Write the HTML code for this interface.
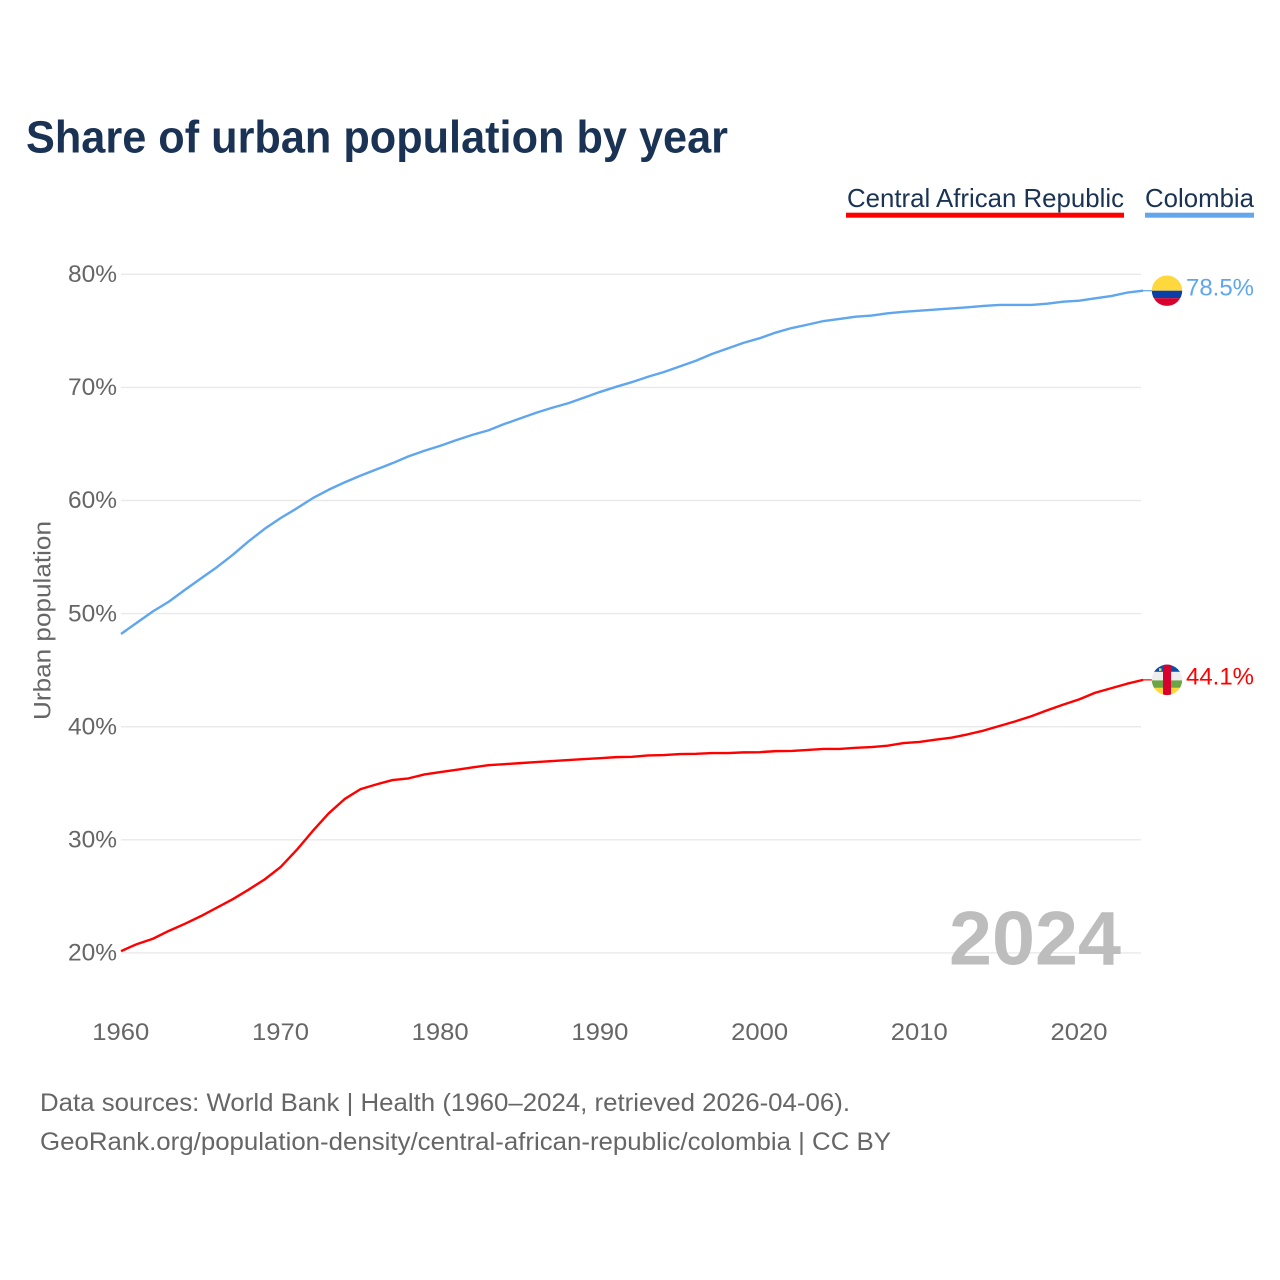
<!DOCTYPE html>
<html lang="en">
<head>
<meta charset="utf-8">
<title>Share of urban population by year</title>
<style>
  html, body { margin: 0; padding: 0; background: #fff; }
  svg { display: block; font-family: "Liberation Sans", sans-serif; }
</style>
</head>
<body>
<svg id="chart" width="1280" height="1280" viewBox="0 0 1280 1280" xmlns="http://www.w3.org/2000/svg">
  <defs>
    <clipPath id="flag-clip"><circle cx="0" cy="0" r="15.2"></circle></clipPath>
  </defs>
  <rect x="0" y="0" width="1280" height="1280" fill="#ffffff"></rect>

  <text x="26" y="152.5" font-size="45" font-weight="700" fill="#1a3354" textLength="702" lengthAdjust="spacingAndGlyphs">Share of urban population by year</text>

  <text x="847" y="207" font-size="26" fill="#1a3354" textLength="277" lengthAdjust="spacingAndGlyphs">Central African Republic</text>
  <rect x="846" y="212.7" width="278" height="5" fill="#ff0000"></rect>
  <text x="1145" y="207" font-size="26" fill="#1a3354" textLength="109" lengthAdjust="spacingAndGlyphs">Colombia</text>
  <rect x="1145" y="212.7" width="109" height="5" fill="#63a6ec"></rect>

  <g id="grid"></g>
  <g id="y-ticks"></g>
  <g id="x-ticks"></g>

  <text transform="translate(50.5,720) rotate(-90)" x="0" y="0" font-size="24" fill="#666666" textLength="199" lengthAdjust="spacingAndGlyphs">Urban population</text>

  <text x="949" y="964.5" font-size="76" font-weight="700" fill="#bdbdbd" textLength="172" lengthAdjust="spacingAndGlyphs">2024</text>

  <g id="series"></g>

  <g id="flag-colombia">
    <g clip-path="url(#flag-clip)">
      <rect x="-16" y="-16" width="32" height="16" fill="#ffd83d"></rect>
      <rect x="-16" y="0" width="32" height="7.5" fill="#0a3fa8"></rect>
      <rect x="-16" y="7.5" width="32" height="9" fill="#d8002c"></rect>
    </g>
  </g>
  <g id="flag-car">
    <g clip-path="url(#flag-clip)">
      <rect x="-16" y="-16" width="32" height="8" fill="#0a4fa8"></rect>
      <rect x="-16" y="-8" width="32" height="8.5" fill="#eeeeee"></rect>
      <rect x="-16" y="0.5" width="32" height="7.5" fill="#6da544"></rect>
      <rect x="-16" y="8" width="32" height="8" fill="#ffd83d"></rect>
      <rect x="-4" y="-16" width="8" height="32" fill="#d8002c"></rect>
      <rect x="-8" y="-11.5" width="2.5" height="2.5" fill="#ffd83d"></rect>
    </g>
  </g>

  <g id="end-labels"></g>

  <text x="40" y="1111" font-size="25" fill="#666666" textLength="810" lengthAdjust="spacingAndGlyphs">Data sources: World Bank | Health (1960–2024, retrieved 2026-04-06).</text>
  <text x="40" y="1150" font-size="25" fill="#666666" textLength="851" lengthAdjust="spacingAndGlyphs">GeoRank.org/population-density/central-african-republic/colombia | CC BY</text>
</svg>

<script>
const startYear = 1960;
const colombiaValues = [
  48.2, 49.2, 50.2, 51.06, 52.1, 53.1, 54.1, 55.2, 56.4, 57.5,
  58.45, 59.3, 60.2, 60.95, 61.6, 62.2, 62.75, 63.3, 63.9, 64.4,
  64.84, 65.34, 65.8, 66.2, 66.76, 67.26, 67.76, 68.2, 68.6, 69.1,
  69.6, 70.05, 70.47, 70.94, 71.36, 71.86, 72.36, 72.95, 73.45, 73.95,
  74.35, 74.85, 75.25, 75.55, 75.87, 76.05, 76.25, 76.35, 76.55, 76.68,
  76.78, 76.88, 76.98, 77.08, 77.2, 77.29, 77.29, 77.29, 77.4, 77.58,
  77.67, 77.88, 78.08, 78.38, 78.55
];
const carValues = [
  20.16, 20.78, 21.25, 21.95, 22.57, 23.25, 24.0, 24.75, 25.6, 26.5,
  27.6, 29.1, 30.77, 32.33, 33.6, 34.48, 34.9, 35.28, 35.43, 35.78,
  35.99, 36.19, 36.4, 36.6, 36.69, 36.78, 36.87, 36.96, 37.05, 37.14,
  37.22, 37.31, 37.34, 37.46, 37.49, 37.58, 37.6, 37.67, 37.67, 37.73,
  37.75, 37.84, 37.86, 37.95, 38.03, 38.03, 38.13, 38.2, 38.32, 38.55,
  38.65, 38.85, 39.03, 39.32, 39.65, 40.06, 40.47, 40.92, 41.45, 41.95,
  42.42, 43.0, 43.4, 43.8, 44.14
];
const yTickValues = [20, 30, 40, 50, 60, 70, 80];
const yTickLabels = ["20%", "30%", "40%", "50%", "60%", "70%", "80%"];
const xTickValues = [1960, 1970, 1980, 1990, 2000, 2010, 2020];
const xTickLabels = ["1960", "1970", "1980", "1990", "2000", "2010", "2020"];

const SVG_NS = "http://www.w3.org/2000/svg";
function xScale(year) { return 121 + (year - 1960) * 15.97; }
function yScale(value) { return 274.3 + (80 - value) * 11.31; }
function make(tag, attrs, parent) {
  const el = document.createElementNS(SVG_NS, tag);
  for (const k in attrs) el.setAttribute(k, attrs[k]);
  parent.appendChild(el);
  return el;
}

const gridGroup = document.getElementById("grid");
const yTickGroup = document.getElementById("y-ticks");
yTickValues.forEach(function (v, i) {
  const line = make("line", { x1: 121, x2: 1141, y1: yScale(v), y2: yScale(v), stroke: "#e9e9e9", "stroke-width": 1.4 }, gridGroup);
  
  
  const t = make("text", { x: 68, y: yScale(v) + 7.7, "font-size": 24, fill: "#666666", textLength: 49, lengthAdjust: "spacingAndGlyphs" }, yTickGroup);
  t.textContent = yTickLabels[i];
  
  
});

const xTickGroup = document.getElementById("x-ticks");
xTickValues.forEach(function (year, i) {
  const t = make("text", { x: xScale(year) - 28.7, y: 1040, "font-size": 24, fill: "#666666", textLength: 57, lengthAdjust: "spacingAndGlyphs" }, xTickGroup);
  t.textContent = xTickLabels[i];
  
  
});

function linePath(values) {
  return values.map(function (v, i) {
    return (i ? "L" : "M") + xScale(startYear + i).toFixed(2) + " " + yScale(v).toFixed(2);
  }).join(" ");
}
function connector(values, color, group) {
  const last = values[values.length - 1];
  const c = make("line", { x1: 1141, x2: 1152, y1: yScale(last), y2: yScale(last), stroke: color, "stroke-width": 1.2 }, group);
  
  
}

const seriesGroup = document.getElementById("series");
const colombiaLine = make("path", { d: linePath(colombiaValues), fill: "none", stroke: "#5fa6ee", "stroke-width": 2.4, "stroke-linejoin": "round" }, seriesGroup);


const carLine = make("path", { d: linePath(carValues), fill: "none", stroke: "#ff0000", "stroke-width": 2.4, "stroke-linejoin": "round" }, seriesGroup);


connector(colombiaValues, "#5fa6ee", seriesGroup);
connector(carValues, "#ff0000", seriesGroup);

const colombiaLast = colombiaValues[colombiaValues.length - 1];
const carLast = carValues[carValues.length - 1];
document.getElementById("flag-colombia").setAttribute("transform", "translate(1167," + yScale(colombiaLast) + ")");
document.getElementById("flag-car").setAttribute("transform", "translate(1167," + yScale(carLast) + ")");

const endGroup = document.getElementById("end-labels");
const colombiaLabel = make("text", { x: 1186, y: yScale(colombiaLast) + 4.8, "font-size": 24, fill: "#5fa6ee", textLength: 68, lengthAdjust: "spacingAndGlyphs" }, endGroup);
colombiaLabel.textContent = (Math.floor(colombiaLast * 10) / 10).toFixed(1) + "%";


const carLabel = make("text", { x: 1186, y: yScale(carLast) + 4.8, "font-size": 24, fill: "#ff0000", textLength: 68, lengthAdjust: "spacingAndGlyphs" }, endGroup);
carLabel.textContent = (Math.floor(carLast * 10) / 10).toFixed(1) + "%";


</script>
</body>
</html>
